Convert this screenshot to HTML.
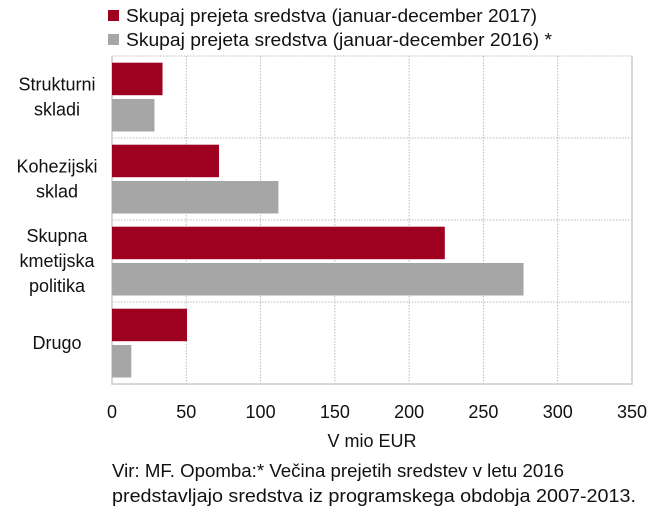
<!DOCTYPE html>
<html><head><meta charset="utf-8"><style>
body{margin:0;background:#fff;}
svg{display:block;font-family:"Liberation Sans",sans-serif;}
</style></head><body>
<svg id="chart" width="667" height="519">
<g id="legend">
 <g><rect x="108" y="10" width="11" height="11" fill="#9e0020"/><text x="126" y="22" font-size="18" textLength="411" lengthAdjust="spacingAndGlyphs" fill="#111">Skupaj prejeta sredstva (januar-december 2017)</text></g>
 <g><rect x="108" y="34" width="11" height="11" fill="#a6a6a6"/><text x="126" y="46" font-size="18" textLength="426" lengthAdjust="spacingAndGlyphs" fill="#111">Skupaj prejeta sredstva (januar-december 2016) *</text></g>
</g>
<g id="grid"></g>
<g id="bars"></g>
<g id="ylabels"></g>
<g id="xlabels"></g>
<text x="372" y="447" font-size="18" text-anchor="middle" fill="#111">V mio EUR</text>
<text x="112" y="477" font-size="18" textLength="452" lengthAdjust="spacingAndGlyphs" fill="#111">Vir: MF. Opomba:* Večina prejetih sredstev v letu 2016</text>
<text x="112" y="502" font-size="18" textLength="524" lengthAdjust="spacingAndGlyphs" fill="#111">predstavljajo sredstva iz programskega obdobja 2007-2013.</text>
</svg>
<script>
const categories=[["Strukturni","skladi"],["Kohezijski","sklad"],["Skupna","kmetijska","politika"],["Drugo"]];
const values2017=[34,72,224,50.5];
const values2016=[28.6,112,277,13];
const ticks=[0,50,100,150,200,250,300,350];
const NS="http://www.w3.org/2000/svg";
const x0=112,x1=632,plotTop=56,band=82,xmax=350;
const xs=v=>x0+(x1-x0)*v/xmax;
function mk(tag,attrs,parent){const e=document.createElementNS(NS,tag);for(const k in attrs)e.setAttribute(k,attrs[k]);parent.appendChild(e);return e;}
const grid=document.getElementById('grid'),bars=document.getElementById('bars'),yl=document.getElementById('ylabels'),xl=document.getElementById('xlabels');
const plotBottom=plotTop+band*categories.length;
ticks.forEach((t,i)=>{
 if(i>0&&i<ticks.length-1){const l=mk('line',{x1:xs(t),x2:xs(t),y1:plotTop,y2:plotBottom,stroke:'#bbb','stroke-dasharray':'1.5,1.5'},grid);
 
 }
 const tx=mk('text',{x:xs(t),y:418,'font-size':18,'text-anchor':'middle',fill:'#111'},xl);tx.textContent=t;
 
 
});
for(let i=1;i<categories.length;i++){const l=mk('line',{x1:x0,x2:x1,y1:plotTop+band*i,y2:plotTop+band*i,stroke:'#bbb','stroke-dasharray':'1.5,1.5'},grid);
 
 }
const tl=mk('line',{x1:x0,x2:x1,y1:plotTop,y2:plotTop,stroke:'#bbb','stroke-dasharray':'1.5,1.5'},grid);


const fr=mk('path',{d:`M${x1},${plotTop}V${plotBottom}H${x0}V${plotTop}`,fill:'none',stroke:'#ccc','stroke-width':1.5},grid);


categories.forEach((c,i)=>{
 const by=plotTop+band*i;
 const b1=mk('rect',{x:x0,y:by+6.7,width:xs(values2017[i])-x0,height:32.5,fill:'#9e0020'},bars);
 
 
 const b2=mk('rect',{x:x0,y:by+43,width:xs(values2016[i])-x0,height:32.5,fill:'#a6a6a6'},bars);
 
 
 const cy=by+band/2, lh=25, start=cy-(c.length-1)*lh/2+6;
 c.forEach((s,j)=>{const t=mk('text',{x:57,y:start+j*lh,'font-size':18,'text-anchor':'middle',fill:'#111'},yl);t.textContent=s;
  
  });
});
</script>
</body></html>
